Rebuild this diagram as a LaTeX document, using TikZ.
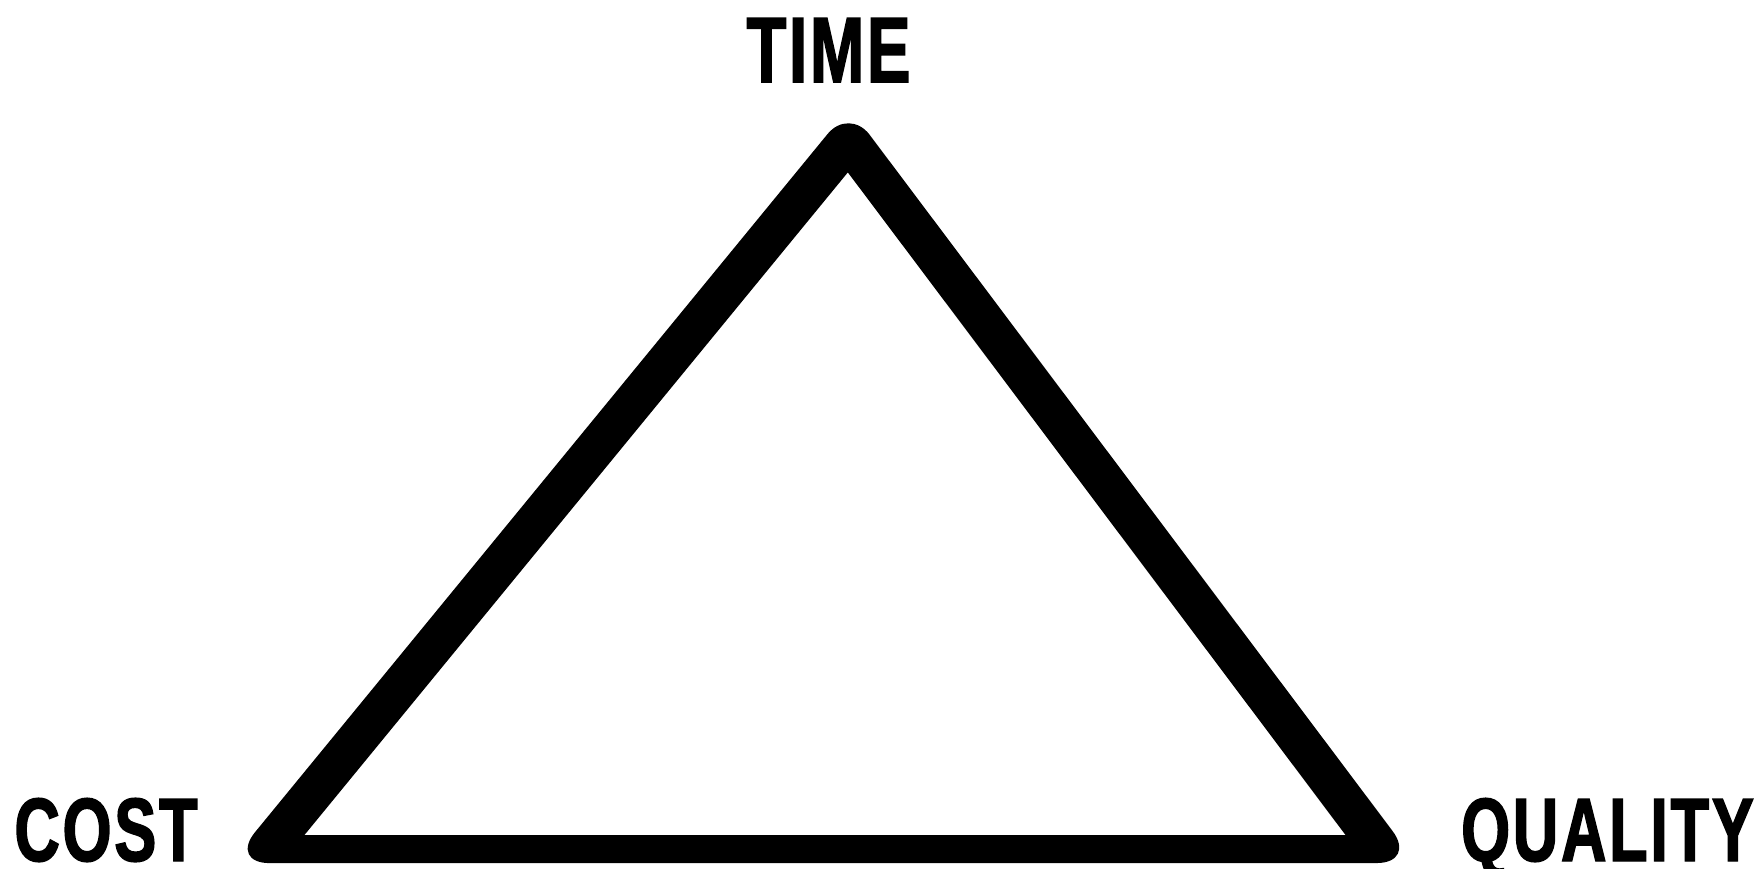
\documentclass[tikz,border=0pt]{standalone}
\usepackage{fontspec}
\usetikzlibrary{calc}
\newfontfamily\condfont[FakeStretch=0.70,FakeBold=1.6,LetterSpace=3]{Liberation Sans}
\begin{document}
\begin{tikzpicture}[x=1pt,y=-1pt,
  label/.style={inner sep=0pt,anchor=base,font=\condfont\bfseries\fontsize{90}{90}\selectfont},
  frame/.style={fill=black,even odd rule}]
\useasboundingbox[fill=white] (0,0) rectangle (1763,868);
% centre line of the triangle's sides
\coordinate (apex) at (848.5,140);
\coordinate (left) at (267,849);
\coordinate (right) at (1381,849);
% outer and inner edges: sides 40 wide, base 28 wide
\coordinate (oL1) at ($(left)!20pt!90:(apex)$);
\coordinate (oL2) at ($(apex)!20pt!-90:(left)$);
\coordinate (iL1) at ($(left)!20pt!-90:(apex)$);
\coordinate (iL2) at ($(apex)!20pt!90:(left)$);
\coordinate (oR1) at ($(apex)!20pt!90:(right)$);
\coordinate (oR2) at ($(right)!20pt!-90:(apex)$);
\coordinate (iR1) at ($(apex)!20pt!-90:(right)$);
\coordinate (iR2) at ($(right)!20pt!90:(apex)$);
\coordinate (oB1) at ($(left)+(0,14)$);
\coordinate (oB2) at ($(right)+(0,14)$);
\coordinate (iB1) at ($(left)+(0,-14)$);
\coordinate (iB2) at ($(right)+(0,-14)$);
\coordinate (oA) at (intersection of oL1--oL2 and oR1--oR2);
\coordinate (oL) at (intersection of oL1--oL2 and oB1--oB2);
\coordinate (oR) at (intersection of oR1--oR2 and oB1--oB2);
\coordinate (iA) at (intersection of iL1--iL2 and iR1--iR2);
\coordinate (iL) at (intersection of iL1--iL2 and iB1--iB2);
\coordinate (iR) at (intersection of iR1--iR2 and iB1--iB2);
\fill[frame] [rounded corners=40pt] ($(oA)!0.5!(oR)$) -- (oR) -- (oL) -- ($(oL)!0.5!(oA)$)
  [rounded corners=34pt] -- (oA) -- cycle
  [sharp corners] (iA) -- (iR) -- (iL) -- cycle;
\node[label,font=\condfont\bfseries\fontsize{93}{93}\selectfont] (time) at (828.5,82) {TIME};
\node[label] (cost) at (106,861) {COST};
\node[label] (quality) at (1607.5,861) {QUALITY};
\end{tikzpicture}
\end{document}
